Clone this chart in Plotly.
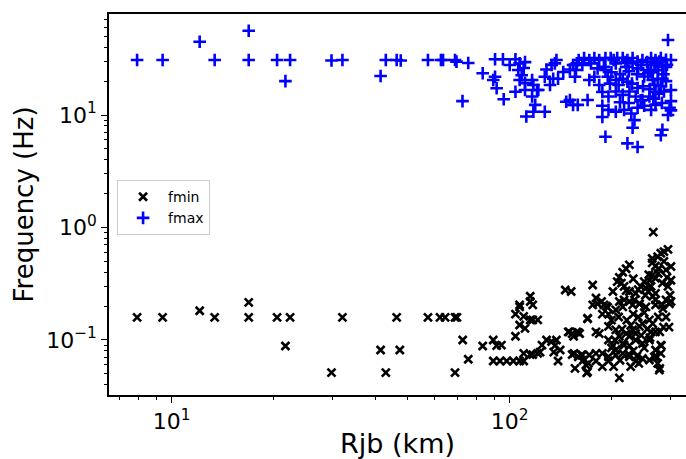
import plotly.graph_objects as go

# ---------------- data ----------------
rjb_fmin = [
    7.9, 9.4, 12.1, 13.4, 16.9, 16.9, 20.5, 22.4, 21.7, 29.7, 32.0, 41.5, 43.0, 46.3, 47.3,
    57.3, 62.2, 64.4, 68.9, 69.8, 68.9, 72.6, 75.4, 83.2,
    89.4, 91.5, 94.5, 89.4, 93.6, 98, 102.5, 107, 110,
    104, 107, 111, 104, 110, 115, 117, 121, 107, 117, 115, 115, 107,
    110, 115, 117, 121, 123, 124.6, 128.5, 133, 137.5, 136, 141, 135, 139,
    146, 152, 150, 153, 153, 156,
    159.5, 163, 165, 169, 171, 149, 158, 154.5, 161, 170, 176,
    266, 286, 294, 274, 280, 264, 264, 270, 276, 290, 300, 226, 221, 216, 211, 208, 214, 218,
    221, 226, 236, 202, 180, 187, 193, 264, 259, 262, 270, 283, 294, 300, 257, 265, 270, 290,
    300, 211, 218, 226, 234, 242,
    170, 160, 180, 184, 176, 182, 190, 195, 188, 196, 206, 216, 231, 242, 253, 270, 283, 297,
    196, 206, 211, 221, 231, 242, 247, 259, 270, 262, 196, 202, 206, 216, 226, 236, 247, 259,
    270, 280, 155, 164, 172, 180, 188, 196, 206, 168, 170, 180, 188, 196, 211, 236, 247, 259,
    274, 277, 268, 280, 226, 236, 216, 226,
    253, 270, 278, 285, 281, 278, 272, 241,
    200, 210, 222, 232, 240, 250, 205, 215, 228, 245, 255, 218, 232, 200, 250, 225, 212, 238,
    203, 228, 260, 265, 252, 244, 258, 250, 240, 232, 286, 275, 292, 298, 290, 296, 284, 275,
]
fmin = [
    0.159, 0.159, 0.182, 0.159, 0.216, 0.159, 0.159, 0.159, 0.0885, 0.0513, 0.159, 0.0815, 0.0513, 0.159, 0.0815,
    0.159, 0.159, 0.159, 0.159, 0.159, 0.0513, 0.1, 0.0674, 0.0885,
    0.1, 0.089, 0.09, 0.065, 0.065, 0.065, 0.065, 0.065, 0.065,
    0.108, 0.136, 0.127, 0.17, 0.162, 0.151, 0.151, 0.151, 0.205, 0.205, 0.22, 0.245, 0.197,
    0.076, 0.074, 0.074, 0.076, 0.078, 0.09, 0.1, 0.097, 0.1, 0.089, 0.0815, 0.078, 0.065,
    0.278, 0.27, 0.118, 0.114, 0.074, 0.056,
    0.071, 0.0736, 0.066, 0.051, 0.062, 0.118, 0.118, 0.108, 0.114, 0.156, 0.308,
    0.91, 0.61, 0.64, 0.55, 0.59, 0.53, 0.485, 0.455, 0.43, 0.42, 0.45, 0.465, 0.43, 0.40, 0.36, 0.33, 0.32, 0.30,
    0.275, 0.27, 0.26, 0.27, 0.236, 0.22, 0.20, 0.375, 0.34, 0.30, 0.354, 0.32, 0.30, 0.34, 0.27, 0.245, 0.227, 0.227,
    0.22, 0.22, 0.227, 0.22, 0.227, 0.21,
    0.154, 0.116, 0.118, 0.114, 0.205, 0.21, 0.205, 0.195, 0.17, 0.17, 0.185, 0.197, 0.205, 0.21, 0.197, 0.205, 0.205, 0.21,
    0.132, 0.123, 0.108, 0.114, 0.123, 0.132, 0.14, 0.151, 0.118, 0.118, 0.1, 0.089, 0.0815, 0.093, 0.089, 0.1, 0.093, 0.1,
    0.0815, 0.09, 0.076, 0.0736, 0.0736, 0.076, 0.076, 0.071, 0.0736, 0.06, 0.052, 0.065, 0.058, 0.065, 0.046, 0.065, 0.0685, 0.0664,
    0.062, 0.054, 0.071, 0.076, 0.108, 0.114, 0.076, 0.071,
    0.29, 0.26, 0.118, 0.13, 0.089, 0.056, 0.071, 0.062,
    0.15, 0.16, 0.15, 0.17, 0.16, 0.175, 0.1, 0.125, 0.135, 0.11, 0.125, 0.09, 0.08, 0.085, 0.085, 0.075, 0.066, 0.072,
    0.058, 0.058, 0.105, 0.14, 0.25, 0.3, 0.38, 0.33, 0.28, 0.35, 0.5, 0.39, 0.36, 0.25, 0.16, 0.13, 0.19, 0.16,
]

rjb_fmax = [
    7.9, 9.4, 12.1, 13.4, 16.9, 16.9, 20.5, 22.4, 21.7, 29.7, 32.0, 41.5, 43.0, 46.3, 47.6,
    57.3, 62.6, 63.5, 68.9, 69.6, 75.4, 72.5, 83.2,
    90.5, 95.5, 90.5, 89.4, 91.5, 96, 100, 104, 107, 111,
    106, 110, 108.5, 107, 111, 104, 111, 116.5, 117.5, 120.5,
    116.5, 119, 117.5, 127, 121.5, 112, 127, 131.6, 134.5, 139,
    128.5, 133, 137.5, 136, 144, 150.7, 154, 158, 156, 147, 150.7, 154,
    160, 166, 172, 178, 184, 192, 199, 203, 208, 216, 223, 231, 239, 247, 262, 270, 280, 277,
    164, 174, 190, 206, 221, 231, 245, 257, 268, 283, 290, 157, 192,
    172, 178, 184, 195, 206, 216, 223, 239, 257, 265, 274, 283, 268, 280, 300,
    188, 196, 206, 216, 226, 236, 247, 259, 270, 286, 170, 159,
    188, 196, 206, 218, 229, 239, 250, 262, 270, 297, 294, 188,
    234, 231, 283, 280, 192, 223, 239,
    294,
    200, 212, 225, 238, 250, 262, 275, 285, 292, 300, 182, 210, 230, 248, 260, 276, 290, 198,
    240, 270, 220, 255, 290, 212, 244, 225, 266, 282, 300, 300,
]
fmax = [
    30.8, 30.8, 44.8, 30.8, 56.1, 30.8, 30.8, 30.8, 20.0, 30.5, 30.8, 22.2, 30.8, 30.8, 30.5,
    30.8, 30.8, 30.8, 30.8, 29.8, 29.0, 13.3, 23.5,
    31.3, 31.3, 21.9, 20.5, 17.3, 13.8, 27.8, 31.3, 28.8, 29.5,
    25.1, 26.2, 22.6, 20.5, 19.2, 16.1, 16.7, 20.5, 18.5, 16.7,
    14.6, 12.3, 10.7, 10.7, 16.7, 9.7, 21.9, 18.5, 21, 21,
    25.4, 27.8, 30.8, 28.8, 24.1, 25.4, 27.8, 28.8, 21.9, 13.1, 13.6, 12.3,
    30.8, 32.1, 30.8, 32.1, 30.8, 32.1, 32.1, 30.8, 32.1, 32.1, 30.8, 32.1, 29.8, 30.8, 32.1, 30.8, 32.1, 29.8,
    27.8, 28.8, 26.8, 28.8, 26.8, 28.8, 27.8, 25.1, 27.8, 26.8, 26.8, 25.1, 25.1,
    20.5, 21.9, 18.5, 21.9, 20.5, 21, 19.8, 17.4, 23.5, 20.5, 21, 21, 18.5, 18, 16.7,
    16.0, 14.6, 16.2, 15.1, 16.2, 14.6, 13.6, 14.6, 16.0, 16.2, 13.6, 12.3,
    12.1, 11.1, 10.7, 11.1, 10.3, 11.6, 12.1, 11.1, 12.3, 11.6, 10.0, 9.6,
    9.0, 7.7, 7.4, 6.6, 6.4, 5.6, 5.2,
    46.4,
    24, 23, 24.5, 23, 22, 24, 25, 23, 28, 30.8, 26, 18.5, 19, 18, 17, 15.5, 20, 19,
    26, 29, 29.5, 29.5, 31, 13, 13.5, 12.8, 14, 12.8, 11, 13.3,
]

x_tick_vals = [10, 100]
x_tick_text = ["10<sup>1</sup>", "10<sup>2</sup>"]
y_tick_vals = [0.1, 1, 10]
y_tick_text = ["10<sup>−1</sup>", "10<sup>0</sup>", "10<sup>1</sup>"]

minor_vals = [m * 10 ** e for e in range(-2, 3) for m in range(2, 10)]

fig = go.Figure()
fig.add_trace(go.Scatter(
    x=rjb_fmin, y=fmin, mode="markers", name="fmin",
    marker=dict(symbol="x-thin", size=8, color="black",
                line=dict(color="black", width=2.6)),
))
fig.add_trace(go.Scatter(
    x=rjb_fmax, y=fmax, mode="markers", name="fmax",
    marker=dict(symbol="cross-thin", size=9, color="blue",
                line=dict(color="blue", width=2.6)),
))

axis_font = dict(family="DejaVu Sans", size=22, color="black")
fig.update_layout(
    width=686, height=459,
    margin=dict(l=109, r=0, t=14, b=64, autoexpand=False),
    paper_bgcolor="white", plot_bgcolor="white",
    font=dict(family="DejaVu Sans", color="black"),
    showlegend=True,
    legend=dict(x=0.014, y=0.564, xanchor="left", yanchor="top",
                bgcolor="rgba(255,255,255,0.8)", bordercolor="#cccccc", borderwidth=1,
                font=dict(family="DejaVu Sans", size=14, color="black"),
                itemwidth=40, tracegroupgap=0),
    xaxis=dict(
        type="log", range=[0.8145, 2.5216], automargin=False,
        showline=True, linecolor="black", linewidth=1.5, mirror=True,
        showgrid=False, zeroline=False,
        ticks="outside", ticklen=6, tickwidth=1.2, tickcolor="black",
        tickvals=x_tick_vals, ticktext=x_tick_text, tickfont=axis_font,
        minor=dict(ticks="outside", ticklen=3.5, tickwidth=1, tickcolor="black",
                   tickvals=minor_vals, showgrid=False),
        title=dict(text="Rjb (km)", font=dict(family="DejaVu Sans", size=27, color="black"),
                   standoff=4),
    ),
    yaxis=dict(
        type="log", range=[-1.489, 1.898], automargin=False,
        showline=True, linecolor="black", linewidth=1.5, mirror=False,
        showgrid=False, zeroline=False,
        ticks="outside", ticklen=6, tickwidth=1.2, tickcolor="black",
        tickvals=y_tick_vals, ticktext=y_tick_text, tickfont=axis_font,
        minor=dict(ticks="outside", ticklen=3.5, tickwidth=1, tickcolor="black",
                   tickvals=minor_vals, showgrid=False),
        title=dict(text="Frequency (Hz)", font=dict(family="DejaVu Sans", size=26, color="black"),
                   standoff=5),
    ),
)

fig.write_html("out.html", config={"displayModeBar": False},
               post_script="document.body.style.margin='0';")
